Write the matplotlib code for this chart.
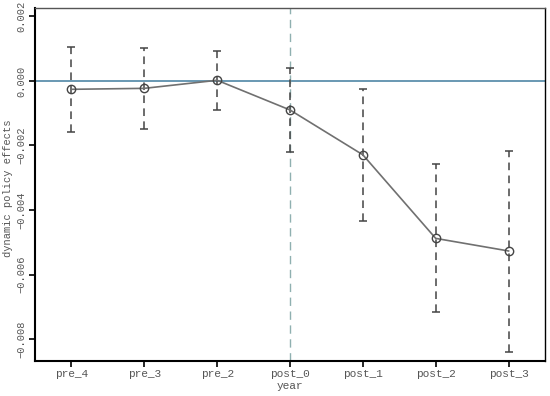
import numpy as np
import matplotlib.pyplot as plt

# event-study estimates
periods = ["pre_4", "pre_3", "pre_2", "post_0", "post_1", "post_2", "post_3"]
coef = [-0.00026, -0.00023, 0.00002, -0.00090, -0.00229, -0.00488, -0.00527]
ci_hi = [0.00106, 0.00103, 0.00094, 0.00040, -0.00026, -0.00258, -0.00216]
ci_lo = [-0.00159, -0.00149, -0.00090, -0.00221, -0.00433, -0.00717, -0.00839]

plt.rcParams['font.family'] = ['Liberation Mono', 'DejaVu Sans Mono']

fig = plt.figure(figsize=(5.5, 3.96), dpi=100)
ax = fig.add_axes([35/550, 1-361/396, 510/550, 353/396])

x = np.arange(len(periods))
coef = np.array(coef)
lower = coef - np.array(ci_lo)
upper = np.array(ci_hi) - coef

ax.axhline(0, color='#4f86a6', lw=1.2, zorder=1)
ax.axvline(3, color='#8fb0b0', lw=1.0, ls=(0, (6, 4)), zorder=1)

eb = ax.errorbar(x, coef, yerr=[lower, upper], fmt='none', ecolor='#444444',
                 elinewidth=1.1, capsize=3, capthick=1.1, zorder=2)
eb[2][0].set_linestyle((0, (5, 3.5)))
ax.plot(x, coef, color='#707070', lw=1.2, marker='o', ms=6, mfc='none',
        mec='#444444', mew=1.0, zorder=3)

ax.set_xlim(-0.5, 6.5)
ax.set_ylim(-0.00868, 0.00226)
ax.set_xticks(x)
ax.set_xticklabels(periods, color='#555555', fontsize=8)
yt = [0.002, 0.0, -0.002, -0.004, -0.006, -0.008]
ax.set_yticks(yt)
ax.set_yticklabels(["%.3f" % v if v >= 0 else "\u2212%.3f" % -v for v in yt],
                   rotation=90, va='center', color='#555555', fontsize=7.5)
ax.set_xlabel("year", color='#555555', fontsize=8, labelpad=1)
ax.set_ylabel("dynamic policy effects", color='#555555', fontsize=7.5, va='center')
ax.yaxis.set_label_coords(-27/510, 0.49)

for s in ['left', 'bottom']:
    ax.spines[s].set_linewidth(1.5)
ax.spines['top'].set_linewidth(1.0)
ax.spines['top'].set_color('#555555')
ax.spines['right'].set_linewidth(1.0)
ax.tick_params(direction='out', length=4, width=1.2, pad=2)

fig.savefig('out.png', dpi=100)
